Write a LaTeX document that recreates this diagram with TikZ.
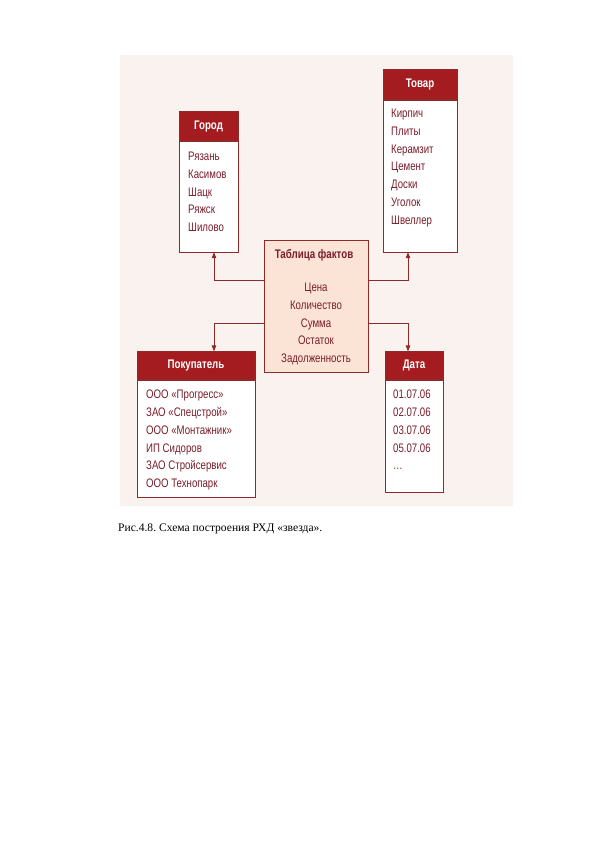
\documentclass[tikz,border=0pt]{standalone}
\usepackage{fontspec}
\setmainfont{Liberation Serif}
\newfontfamily\narrowsf[FakeStretch=0.78]{Liberation Sans}
\usetikzlibrary{calc,positioning,arrows.meta}
\frenchspacing

\definecolor{panelbg}{HTML}{FAF2EF}
\definecolor{headred}{HTML}{A51C20}
\definecolor{boxline}{HTML}{8E2A2A}
\definecolor{itemred}{HTML}{7A1D2C}
\definecolor{factbg}{HTML}{FBE4D5}

\tikzset{
	head/.style={draw=boxline, fill=headred, text=white, inner sep=0pt,
		font=\narrowsf\bfseries\fontsize{12.5}{15}\selectfont},
	body/.style={draw=boxline, fill=white, inner sep=0pt},
	items/.style={text=itemred, inner sep=0pt, align=left, anchor=north west,
		font=\narrowsf\fontsize{12.4}{17.8}\selectfont},
	link/.style={draw=boxline, line width=0.7pt, -{Triangle[length=6pt,width=4.5pt]}},
}

\begin{document}
\begin{tikzpicture}[x=1bp, y=-1bp]
			%%%%% START %%%%%
			
			\fill[white] (0,0) rectangle (596,842);
			\useasboundingbox (0,0) rectangle (596,842);
			\fill[panelbg] (120,55) rectangle (513,506);
			
			% Город
			\node[body, minimum width=59bp, minimum height=111bp] (gorod) at (208.5,196.5) {};
			\node[head, above=0pt of gorod, minimum width=59bp, minimum height=29bp] (gorodH) {Город};
			\node[items] (gorodL) at (188,152) {Рязань\\Касимов\\Шацк\\Ряжск\\Шилово};
			
			% Товар
			\node[body, minimum width=74bp, minimum height=152bp] (tovar) at (420,176) {};
			\node[head, above=0pt of tovar, minimum width=74bp, minimum height=30bp] (tovarH) {Товар};
			\node[items] (tovarL) at (391,109) {Кирпич\\Плиты\\Керамзит\\Цемент\\Доски\\Уголок\\Швеллер};
			
			% Таблица фактов
			\node[body, fill=factbg, minimum width=104bp, minimum height=132bp] (fact) at (316,306) {};
			\node[text=itemred, font=\narrowsf\bfseries\fontsize{12.5}{15}\selectfont] (factH) at (314,255) {Таблица фактов};
			\node[items, align=center, anchor=north] (factL) at (316,283) {Цена\\Количество\\Сумма\\Остаток\\Задолженность};
			
			% Покупатель
			\node[body, minimum width=118bp, minimum height=117bp] (pokup) at (196,438.5) {};
			\node[head, above=0pt of pokup, minimum width=118bp, minimum height=28bp] (pokupH) {Покупатель};
			\node[items] (pokupL) at (146,390) {ООО «Прогресс»\\ЗАО «Спецстрой»\\ООО «Монтажник»\\ИП Сидоров\\ЗАО Стройсервис\\ООО Технопарк};
			
			% Дата
			\node[body, minimum width=58bp, minimum height=112bp] (data) at (414,436) {};
			\node[head, above=0pt of data, minimum width=58bp, minimum height=28bp] (dataH) {Дата};
			\node[items] (dataL) at (393,390) {01.07.06\\02.07.06\\03.07.06\\05.07.06\\\dots};
			
			% связи
			\draw[link] ([yshift=26bp]fact.west) -| ([xshift=5.5bp]gorod.south);
			\draw[link] ([yshift=26bp]fact.east) -| ([xshift=-12bp]tovar.south);
			\draw[link] ([yshift=-17bp]fact.west) -| ([xshift=18bp]pokupH.north);
			\draw[link] ([yshift=-17bp]fact.east) -| ([xshift=-6bp]dataH.north);
			
			\node[anchor=base west, inner sep=0pt, font=\fontsize{11.6}{14}\selectfont] (caption) at (118,531) {Рис.4.8. Схема построения РХД «звезда».};
			
			%%%%% END %%%%%
\end{tikzpicture}
\end{document}
